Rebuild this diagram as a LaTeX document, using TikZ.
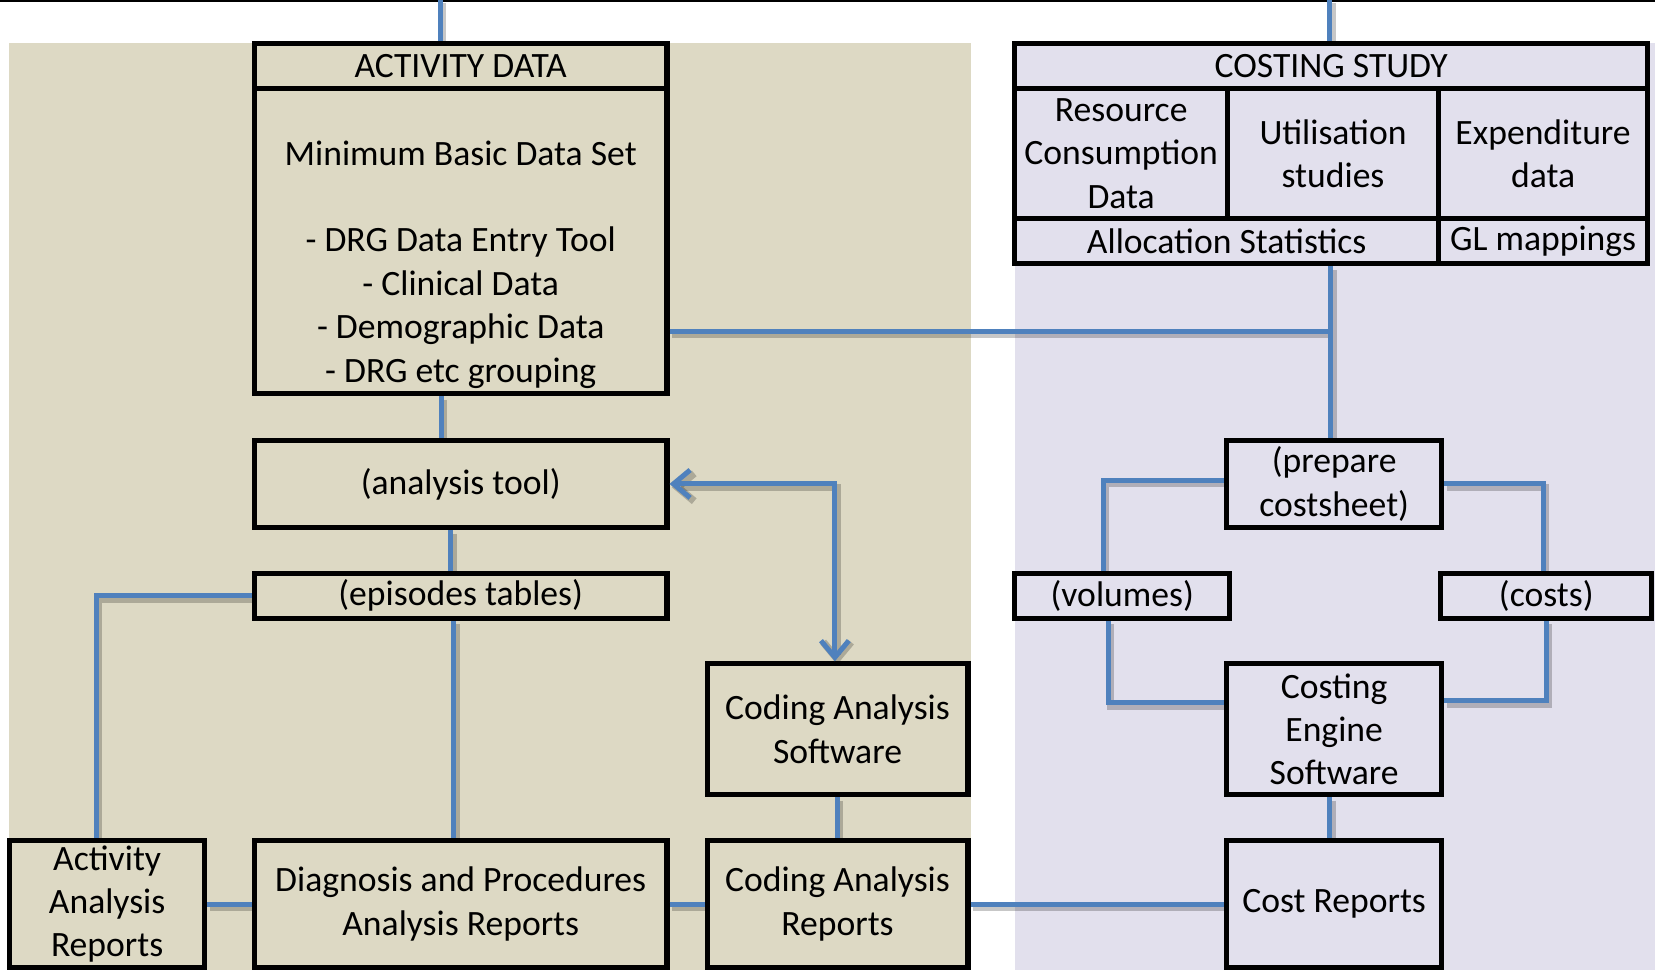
\documentclass[tikz,border=0pt]{standalone}
\usepackage{fontspec}
\setmainfont{Carlito}
\usepackage{xcolor}
\usetikzlibrary{arrows.meta}
\definecolor{actbg}{HTML}{DDD9C4}
\definecolor{costbg}{HTML}{E2E0ED}
\definecolor{linkblue}{HTML}{4F81BD}

\begin{document}
\begin{tikzpicture}[x=0.01cm, y=-0.01cm,
    font=\fontsize{9.6}{11.7}\selectfont,
    box/.style={draw, line width=1.4pt, inner sep=0pt, align=center},
    link/.style={draw=linkblue, line width=1.35pt,
        preaction={draw=black, opacity=0.22, line width=2pt, transform canvas={shift={(0.6pt,-0.9pt)}}}},
    >={Straight Barb[length=4.5pt, width=7.5pt]}]
    \useasboundingbox (0, 0) rectangle (1568, 919);
    % Panels
    \fill [actbg] (9, 41) rectangle (920, 919);
    \fill [costbg] (961.5, 41) rectangle (1568, 919);
    \draw [line width=0.5pt] (0, 1) -- (1568, 1);

    % Activity data
    \node [box, minimum width=3.905cm, minimum height=0.43cm] (actHead) at (436.5, 62.5) {ACTIVITY DATA};
    \node [box, minimum width=3.905cm, minimum height=2.89cm] (actBody) at (436.5, 228.5) {};
    \node [align=center] (actList) at (436.5, 250.5) {Minimum Basic Data Set\\[11.7pt]- DRG Data Entry Tool\\- Clinical Data\\- Demographic Data\\- DRG etc grouping};
    \node [box, minimum width=3.905cm, minimum height=0.83cm] (tool) at (436.5, 458.5) {(analysis tool)};
    \node [box, minimum width=3.905cm, minimum height=0.43cm] (episodes) at (436.5, 564.5) {(episodes tables)};
    \node [box, minimum width=2.47cm, minimum height=1.24cm] (codeSoft) at (793.5, 691) {Coding Analysis\\Software};

    % Costing study
    \node [box, minimum width=5.995cm, minimum height=0.43cm] (costHead) at (1261.25, 62.5) {COSTING STUDY};
    \node [box, minimum width=2.015cm, minimum height=1.23cm] (resource) at (1062.25, 145.5) {Resource\\Consumption\\Data};
    \node [box, minimum width=2cm, minimum height=1.23cm] (utilisation) at (1263, 145.5) {Utilisation\\studies};
    \node [box, minimum width=1.98cm, minimum height=1.23cm] (expenditure) at (1462, 145.5) {Expenditure\\data};
    \node [box, minimum width=4.015cm, minimum height=0.43cm] (allocation) at (1162.25, 228.5) {Allocation Statistics};
    \node [box, minimum width=1.98cm, minimum height=0.43cm] (glmap) at (1462, 228.5) {GL mappings};
    \node [box, minimum width=2.04cm, minimum height=0.83cm] (prepare) at (1264, 458.5) {(prepare\\costsheet)};
    \node [box, minimum width=2.035cm, minimum height=0.43cm] (volumes) at (1063.25, 564.5) {(volumes)};
    \node [box, minimum width=2cm, minimum height=0.43cm] (costs) at (1465, 564.5) {(costs)};
    \node [box, minimum width=2.04cm, minimum height=1.24cm] (engine) at (1264, 691) {Costing\\Engine\\Software};

    % Reports
    \node [box, minimum width=1.85cm, minimum height=1.21cm] (actRep) at (101.5, 856.5) {Activity\\Analysis\\Reports};
    \node [box, minimum width=3.905cm, minimum height=1.21cm] (diagRep) at (436.5, 856.5) {Diagnosis and Procedures\\Analysis Reports};
    \node [box, minimum width=2.47cm, minimum height=1.21cm] (codeRep) at (793.5, 856.5) {Coding Analysis\\Reports};
    \node [box, minimum width=2.04cm, minimum height=1.21cm] (costRep) at (1264, 856.5) {Cost Reports};

    % Links
    \coordinate (topA) at (417, 0);
    \coordinate (topB) at (1260, 0);
    \coordinate (jn) at (1261, 314);
    \draw [link] (topA) -- (topA |- actHead.north);
    \draw [link] (topB) -- (topB |- costHead.north);
    \draw [link] (actBody.east |- jn) -- (jn);
    \draw [link] (jn |- allocation.south) -- (jn |- prepare.north);
    \draw [link] ([xshift=-0.185cm]actBody.south) -- ([xshift=-0.185cm]tool.north);
    \draw [link] ([xshift=-0.095cm]tool.south) -- ([xshift=-0.095cm]episodes.north);
    \draw [link, <->] (tool.east) -| ([xshift=-0.025cm]codeSoft.north);
    \draw [link] (episodes.west) -| ([xshift=-0.105cm]actRep.north);
    \draw [link] ([xshift=-0.065cm]episodes.south) -- ([xshift=-0.065cm]diagRep.north);
    \draw [link] (codeSoft.south) -- (codeRep.north);
    \draw [link] (actRep.east) -- (diagRep.west);
    \draw [link] (diagRep.east) -- (codeRep.west);
    \draw [link] (codeRep.east) -- (costRep.west);
    \draw [link] ([yshift=0.035cm]prepare.west) -| ([xshift=-0.18cm]volumes.north);
    \draw [link] (prepare.east) -| ([xshift=-0.03cm]costs.north);
    \draw [link] ([xshift=-0.13cm]volumes.south) |- ([yshift=0.25cm]engine.west);
    \draw [link] (costs.south) |- ([yshift=0.27cm]engine.east);
    \draw [link] ([xshift=-0.04cm]engine.south) -- ([xshift=-0.04cm]costRep.north);
\end{tikzpicture}
\end{document}
